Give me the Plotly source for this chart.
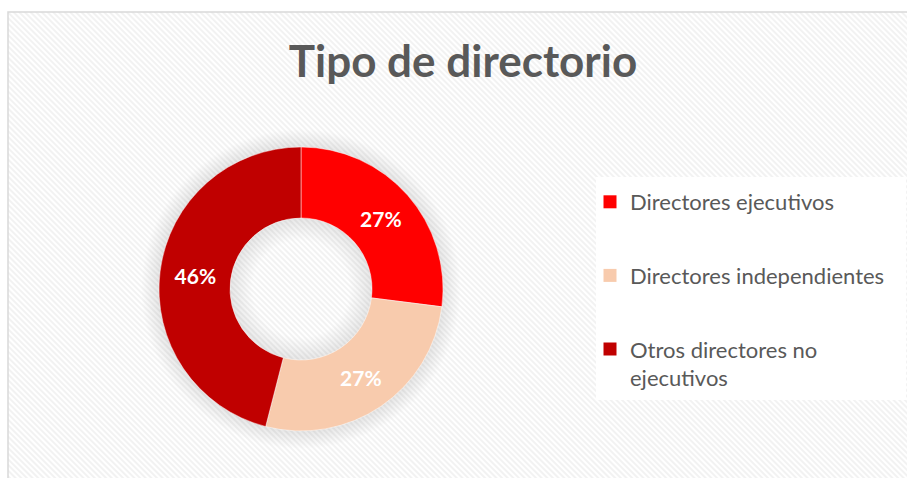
import plotly.graph_objects as go
import urllib.parse

# ---- data ----
categories = ["Directores ejecutivos", "Directores independientes", "Otros directores no ejecutivos"]
legend_text = ["Directores ejecutivos", "Directores independientes", "Otros directores no<br>ejecutivos"]
values = [27, 27, 46]
colors = ["#FF0000", "#F8CBAD", "#C00000"]
title_text = "Tipo de directorio"

W, H = 907, 478

# background: light diagonal hatch + soft shadow around the donut + legend box
svg = f'''<svg xmlns="http://www.w3.org/2000/svg" width="{W}" height="{H}" viewBox="0 0 {W} {H}" preserveAspectRatio="none">
<defs>
<pattern id="p" patternUnits="userSpaceOnUse" width="4" height="4" patternTransform="rotate(-45)">
<rect width="4" height="4" fill="#ffffff"/><rect width="2" height="4" fill="#f2f2f2"/>
</pattern>
<radialGradient id="g" cx="301" cy="289" r="160" gradientUnits="userSpaceOnUse">
<stop offset="0" stop-color="#000" stop-opacity="0"/>
<stop offset="0.30" stop-color="#000" stop-opacity="0"/>
<stop offset="0.44" stop-color="#000" stop-opacity="0.09"/>
<stop offset="0.88" stop-color="#000" stop-opacity="0.10"/>
<stop offset="1" stop-color="#000" stop-opacity="0"/>
</radialGradient>
</defs>
<rect x="0" y="0" width="{W}" height="{H}" fill="#ffffff"/>
<rect x="8" y="12" width="{W}" height="{H}" fill="url(#p)" stroke="#d9d9d9" stroke-width="1.5"/>
<circle cx="301" cy="289" r="160" fill="url(#g)"/>
<rect x="596" y="177" width="310" height="223" fill="#ffffff"/>
</svg>'''
bg_uri = "data:image/svg+xml;charset=utf-8," + urllib.parse.quote(svg)

fig = go.Figure()
fig.add_trace(go.Pie(
    labels=categories,
    values=values,
    marker=dict(colors=colors, line=dict(color="rgba(255,255,255,0.6)", width=0.8)),
    hole=0.5,
    sort=False,
    direction="clockwise",
    rotation=0,
    textinfo="percent",
    texttemplate="%{percent:.0%}",
    textposition="inside",
    insidetextorientation="horizontal",
    textfont=dict(family="Lato", size=21, color="white", weight="bold"),
    domain=dict(x=[159 / W, 443 / W], y=[47 / H, 331 / H]),
    showlegend=False,
))

# legend entries (one per category, matching slice colours)
for name, lbl, col in zip(categories, legend_text, colors):
    fig.add_trace(go.Scatter(
        x=[None], y=[None], mode="markers", name=lbl, legendgroup=name,
        marker=dict(symbol="square", size=13, color=col, line=dict(width=0)),
        hoverinfo="skip", showlegend=True,
    ))

fig.update_layout(
    width=W, height=H,
    margin=dict(l=0, r=0, t=0, b=0),
    paper_bgcolor="white",
    plot_bgcolor="rgba(0,0,0,0)",
    xaxis=dict(visible=False), yaxis=dict(visible=False),
    title=dict(text=f"<b>{title_text}</b>", x=463 / W, xanchor="center",
               y=1 - 62 / H, yanchor="middle",
               font=dict(family="Lato", size=44, color="#595959")),
    legend=dict(orientation="v", x=590 / W, xanchor="left", y=1 - 181 / H, yanchor="top",
                font=dict(family="Lato", size=22, color="#595959"),
                valign="top", bgcolor="rgba(0,0,0,0)", traceorder="grouped",
                tracegroupgap=42, itemsizing="trace"),
    images=[dict(source=bg_uri, xref="paper", yref="paper", x=0, y=1,
                 sizex=1, sizey=1, sizing="stretch", layer="below",
                 xanchor="left", yanchor="top")],
)

fig.write_html("out.html", config={"displayModeBar": False},
               post_script="document.body.style.margin='0';document.body.style.overflow='hidden';")
